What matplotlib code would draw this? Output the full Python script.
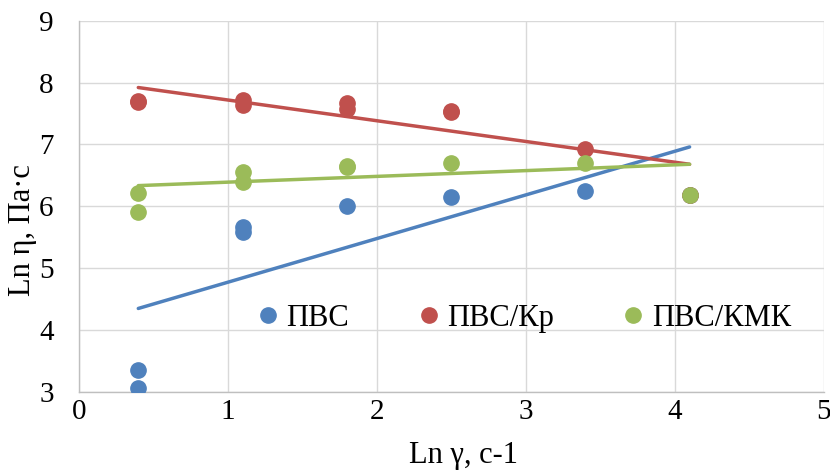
import matplotlib
matplotlib.use("Agg")
import matplotlib.pyplot as plt

# ---- data ----
series_names = ["ПВС", "ПВС/Кр", "ПВС/КМК"]
x_pvs = [0.4, 0.4, 1.1, 1.1, 1.8, 2.5, 3.4, 4.1]
y_pvs = [3.36, 3.07, 5.66, 5.58, 6.00, 6.15, 6.25, 6.19]
x_kr = [0.4, 0.4, 1.1, 1.1, 1.8, 1.8, 2.5, 2.5, 3.4, 4.1]
y_kr = [7.71, 7.68, 7.72, 7.64, 7.67, 7.58, 7.54, 7.52, 6.92, 6.19]
x_kmk = [0.4, 0.4, 1.1, 1.1, 1.8, 1.8, 2.5, 3.4, 4.1]
y_kmk = [6.21, 5.91, 6.56, 6.40, 6.66, 6.64, 6.70, 6.70, 6.18]
trend_x = [0.4, 4.1]
trend_pvs = [4.35, 6.96]
trend_kr = [7.92, 6.68]
trend_kmk = [6.335, 6.68]
x_ticks = [0, 1, 2, 3, 4, 5]
y_ticks = [3, 4, 5, 6, 7, 8, 9]

colors = ["#4F81BD", "#C0504D", "#9BBB59"]

plt.rcParams['font.family'] = ['Liberation Serif', 'DejaVu Serif']

fig = plt.figure(figsize=(8.3, 4.73), dpi=100)
ax = fig.add_axes([78.7 / 830, 1 - 392 / 473, (823.7 - 78.7) / 830, (392 - 20.7) / 473])

ms = 11
handles = []
for xs, ys, tx, ty, c, name in [
    (x_pvs, y_pvs, trend_x, trend_pvs, colors[0], series_names[0]),
    (x_kr, y_kr, trend_x, trend_kr, colors[1], series_names[1]),
    (x_kmk, y_kmk, trend_x, trend_kmk, colors[2], series_names[2]),
]:
    h, = ax.plot(xs, ys, linestyle='none', marker='o', markersize=ms,
                 markerfacecolor=c, markeredgecolor=c, label=name, zorder=3)
    handles.append(h)
for tx, ty, c in [(trend_x, trend_pvs, colors[0]), (trend_x, trend_kr, colors[1]),
                  (trend_x, trend_kmk, colors[2])]:
    ax.plot(tx, ty, color=c, linewidth=2.5, solid_capstyle='round', zorder=4)

ax.set_xlim(0, 5)
ax.set_ylim(3, 9)
ax.set_xticks(x_ticks)
ax.set_yticks(y_ticks)
ax.grid(True, color='#D9D9D9', linewidth=1.0, zorder=0)
ax.set_axisbelow(True)
for s in ['top', 'right']:
    ax.spines[s].set_visible(False)
for s in ['left', 'bottom']:
    ax.spines[s].set_color('#BFBFBF')
    ax.spines[s].set_linewidth(1.0)
ax.tick_params(axis='both', length=0, labelsize=21, colors='black')
ax.tick_params(axis='x', pad=5)
ax.tick_params(axis='y', pad=18)

ax.set_xlabel("Ln γ, с-1", fontsize=22)
ax.xaxis.set_label_coords(0.517, -0.172)
ax.xaxis.label.set_va('center')
ax.set_ylabel("Ln η, Па·с", fontsize=22)
ax.yaxis.set_label_coords(-0.0748, 0.436)
ax.yaxis.label.set_va('center')

leg = ax.legend(handles=handles, loc='center left', bbox_to_anchor=(0.242, 0.199),
                ncol=3, frameon=False, fontsize=22, handlelength=0.6,
                handletextpad=0.3, columnspacing=2.3, borderaxespad=0, borderpad=0)

fig.savefig("out.png", dpi=100)
